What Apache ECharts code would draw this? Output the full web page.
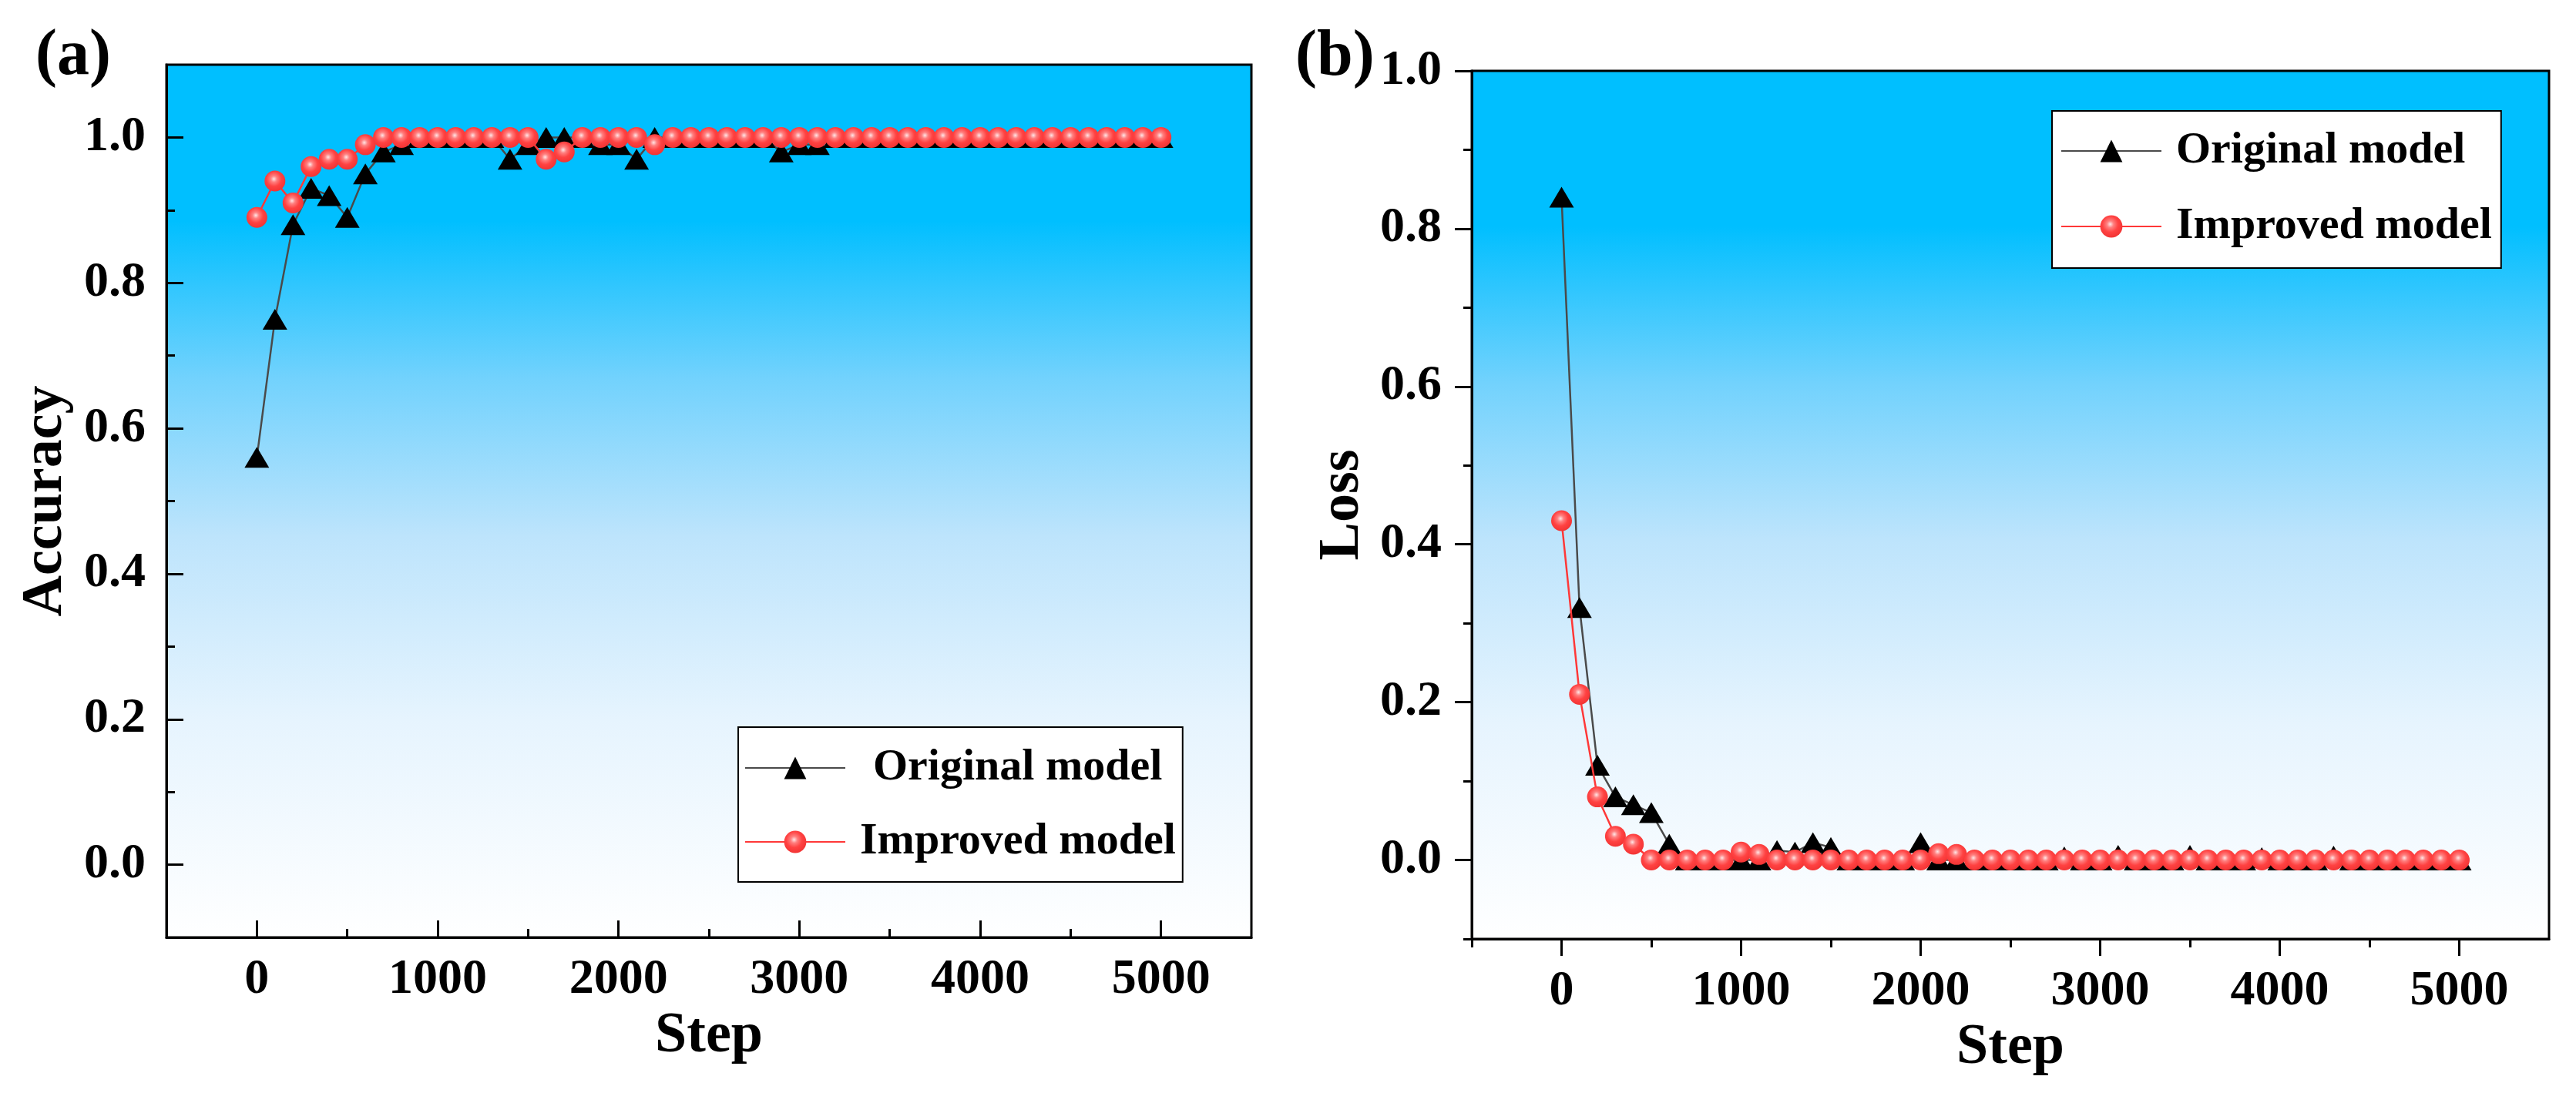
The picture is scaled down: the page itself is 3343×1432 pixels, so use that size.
<!DOCTYPE html>
<html>
<head>
<meta charset="utf-8">
<title>Accuracy / Loss</title>
<script src="https://cdn.jsdelivr.net/npm/echarts@6/dist/echarts.min.js"></script>
<style>
html, body { margin: 0; padding: 0; background: #fff; }
#main { width: 3343px; height: 1432px; }
</style>
</head>
<body>
<div id="main"></div>
<script>
var steps = [0, 100, 200, 300, 400, 500, 600, 700, 800, 900,
    1000, 1100, 1200, 1300, 1400, 1500, 1600, 1700, 1800, 1900,
    2000, 2100, 2200, 2300, 2400, 2500, 2600, 2700, 2800, 2900,
    3000, 3100, 3200, 3300, 3400, 3500, 3600, 3700, 3800, 3900,
    4000, 4100, 4200, 4300, 4400, 4500, 4600, 4700, 4800, 4900, 5000];

// (a) accuracy
var accOriginal = [0.56, 0.75, 0.88, 0.93, 0.92, 0.89, 0.95, 0.98, 0.99, 1.0,
    1.0, 1.0, 1.0, 1.0, 0.97, 0.99, 1.0, 1.0, 1.0, 0.99,
    0.99, 0.97, 1.0, 1.0, 1.0, 1.0, 1.0, 1.0, 1.0, 0.98,
    0.99, 0.99, 1.0, 1.0, 1.0, 1.0, 1.0, 1.0, 1.0, 1.0,
    1.0, 1.0, 1.0, 1.0, 1.0, 1.0, 1.0, 1.0, 1.0, 1.0, 1.0];
var accImproved = [0.89, 0.94, 0.91, 0.96, 0.97, 0.97, 0.99, 1.0, 1.0, 1.0,
    1.0, 1.0, 1.0, 1.0, 1.0, 1.0, 0.97, 0.98, 1.0, 1.0,
    1.0, 1.0, 0.99, 1.0, 1.0, 1.0, 1.0, 1.0, 1.0, 1.0,
    1.0, 1.0, 1.0, 1.0, 1.0, 1.0, 1.0, 1.0, 1.0, 1.0,
    1.0, 1.0, 1.0, 1.0, 1.0, 1.0, 1.0, 1.0, 1.0, 1.0, 1.0];

// (b) loss
var lossOriginal = [0.84, 0.32, 0.12, 0.08, 0.07, 0.06, 0.02, 0, 0, 0,
    0, 0, 0.012, 0.01, 0.022, 0.016, 0, 0, 0, 0,
    0.022, 0, 0, 0, 0, 0, 0, 0, 0.004, 0,
    0, 0.006, 0, 0, 0, 0.006, 0, 0, 0, 0.003,
    0, 0, 0, 0.005, 0, 0, 0, 0, 0, 0, 0];
var lossImproved = [0.43, 0.21, 0.08, 0.03, 0.02, 0, 0, 0, 0, 0,
    0.01, 0.007, 0, 0, 0, 0, 0, 0, 0, 0,
    0, 0.008, 0.007, 0, 0, 0, 0, 0, 0, 0,
    0, 0, 0, 0, 0, 0, 0, 0, 0, 0,
    0, 0, 0, 0, 0, 0, 0, 0, 0, 0, 0];

var xMajor = [0, 1000, 2000, 3000, 4000, 5000];
var xMinorA = [500, 1500, 2500, 3500, 4500];
var xMinorB = [-500, 500, 1500, 2500, 3500, 4500];
var yMajor = [0, 0.2, 0.4, 0.6, 0.8, 1.0];
var yMinorA = [0.1, 0.3, 0.5, 0.7, 0.9];
var yMinorB = [-0.1, 0.1, 0.3, 0.5, 0.7, 0.9];
var seriesNames = ['Original model', 'Improved model'];

var FONT = 'Liberation Serif';

var plotFill = {
    type: 'linear', x: 0, y: 0, x2: 0, y2: 1,
    colorStops: [
        {offset: 0, color: '#00BFFF'},
        {offset: 0.18, color: '#00BFFF'},
        {offset: 0.25, color: '#2EC6FE'},
        {offset: 0.36, color: '#72D2FD'},
        {offset: 0.54, color: '#BDE4FC'},
        {offset: 0.75, color: '#E6F4FE'},
        {offset: 1, color: '#FFFFFF'}
    ]
};
var ballFill = {
    type: 'radial', x: 0.45, y: 0.4, r: 0.6,
    colorStops: [
        {offset: 0, color: '#FFE6E6'},
        {offset: 0.25, color: '#FF8080'},
        {offset: 0.6, color: '#FF4242'},
        {offset: 1, color: '#F23434'}
    ]
};

function pairs(vals) {
    var out = [];
    for (var i = 0; i < steps.length; i++) {
        out.push([steps[i], vals[i]]);
    }
    return out;
}

function labelStyle(size) {
    return {fontFamily: FONT, fontWeight: 'bold', fontSize: size, color: '#000'};
}

function majorX(g, inside, margin, gap) {
    var lbl = labelStyle(64);
    lbl.customValues = xMajor;
    lbl.margin = margin;
    lbl.formatter = function (v) { return String(v); };
    return {
        type: 'value', gridIndex: g, position: 'bottom', min: -500, max: 5500,
        name: 'Step', nameLocation: 'middle', nameGap: gap, nameTextStyle: labelStyle(74),
        axisLine: {show: true, onZero: false, lineStyle: {color: '#000', width: 3}},
        axisTick: {show: true, inside: inside, length: 22, customValues: xMajor, lineStyle: {color: '#000', width: 3}},
        axisLabel: lbl,
        splitLine: {show: false}
    };
}
function minorX(g, inside, ticks) {
    return {
        type: 'value', gridIndex: g, position: 'bottom', min: -500, max: 5500,
        axisLine: {show: false, onZero: false},
        axisTick: {show: true, inside: inside, length: 11, customValues: ticks, lineStyle: {color: '#000', width: 3}},
        axisLabel: {show: false},
        splitLine: {show: false}
    };
}
function majorY(g, max, name, inside, margin, gap) {
    var lbl = labelStyle(64);
    lbl.customValues = yMajor;
    lbl.margin = margin;
    lbl.formatter = function (v) { return v.toFixed(1); };
    return {
        type: 'value', gridIndex: g, position: 'left', min: -0.1, max: max,
        name: name, nameLocation: 'middle', nameGap: gap, nameTextStyle: labelStyle(74),
        axisLine: {show: true, onZero: false, lineStyle: {color: '#000', width: 3}},
        axisTick: {show: true, inside: inside, length: 22, customValues: yMajor, lineStyle: {color: '#000', width: 3}},
        axisLabel: lbl,
        splitLine: {show: false}
    };
}
function minorY(g, max, inside, ticks) {
    return {
        type: 'value', gridIndex: g, position: 'left', min: -0.1, max: max,
        axisLine: {show: false, onZero: false},
        axisTick: {show: true, inside: inside, length: 11, customValues: ticks, lineStyle: {color: '#000', width: 3}},
        axisLabel: {show: false},
        splitLine: {show: false}
    };
}

function lineSeries(name, vals, axisIdx) {
    var s = {
        type: 'line', name: name, data: pairs(vals),
        xAxisIndex: axisIdx, yAxisIndex: axisIdx,
        showAllSymbol: true, animation: false
    };
    if (name === seriesNames[0]) {
        s.symbol = 'triangle';
        s.symbolSize = [32, 27];
        s.itemStyle = {color: '#000'};
        s.lineStyle = {color: '#4a4a4a', width: 2.5};
        s.z = 2;
    } else {
        s.symbol = 'circle';
        s.symbolSize = 27;
        s.itemStyle = {color: ballFill};
        s.lineStyle = {color: '#FF3838', width: 2.5};
        s.z = 3;
    }
    return s;
}

// legend of (a) has its first entry nudged right, like the original figure
function legendBox(left, top, gap, padding, shiftFirst) {
    var txt = labelStyle(58);
    txt.padding = [0, 0, 0, 14];
    txt.rich = {o: {fontFamily: FONT, fontWeight: 'bold', fontSize: 58, color: '#000', padding: [0, 0, 0, shiftFirst]}};
    return {
        data: seriesNames, orient: 'vertical', left: left, top: top,
        itemWidth: 130, itemHeight: 36, itemGap: gap, padding: padding,
        backgroundColor: '#fff', borderColor: '#000', borderWidth: 2,
        textStyle: txt,
        formatter: function (name) {
            return name === seriesNames[0] && shiftFirst ? '{o|' + name + '}' : name;
        }
    };
}

var chart = echarts.init(document.getElementById('main'));
chart.setOption({
    animation: false,
    backgroundColor: '#fff',
    grid: [
        {left: 216, top: 84, width: 1408, height: 1133, show: true, backgroundColor: plotFill,
            borderColor: '#000', borderWidth: 3, outerBoundsMode: 'none'},
        {left: 1910, top: 92, width: 1398, height: 1127, show: true, backgroundColor: plotFill,
            borderColor: '#000', borderWidth: 3, outerBoundsMode: 'none'}
    ],
    xAxis: [
        majorX(0, true, 23, 89),
        minorX(0, true, xMinorA),
        majorX(1, false, 36, 104),
        minorX(1, false, xMinorB)
    ],
    yAxis: [
        majorY(0, 1.1, 'Accuracy', true, 27, 119),
        minorY(0, 1.1, true, yMinorA),
        majorY(1, 1.0, 'Loss', false, 39, 130),
        minorY(1, 1.0, false, yMinorB)
    ],
    legend: [
        legendBox(958, 944, 38, [24, 9, 23, 8], 17),
        legendBox(2663, 144, 40, [23, 12, 25, 11], 0)
    ],
    graphic: [
        {type: 'text', left: 46, top: 32, style: {text: '(a)', font: 'bold 84px "Liberation Serif"', fill: '#000'}},
        {type: 'text', left: 1681, top: 33, style: {text: '(b)', font: 'bold 84px "Liberation Serif"', fill: '#000'}}
    ],
    series: [
        lineSeries(seriesNames[0], accOriginal, 0),
        lineSeries(seriesNames[1], accImproved, 0),
        lineSeries(seriesNames[0], lossOriginal, 2),
        lineSeries(seriesNames[1], lossImproved, 2)
    ]
});
window.addEventListener('resize', function () {
    chart.resize();
});
</script>
</body>
</html>
